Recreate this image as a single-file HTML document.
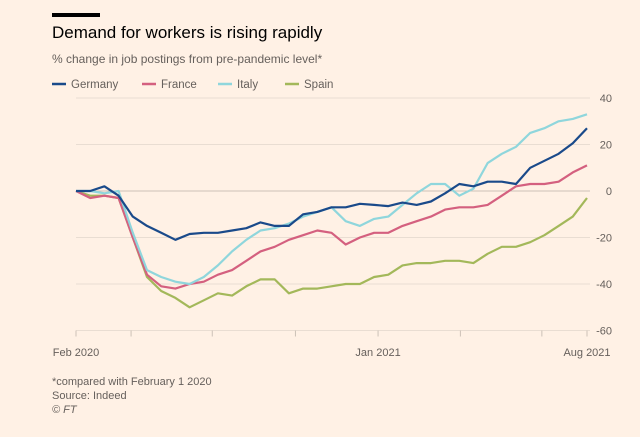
<!DOCTYPE html>
<html><head><meta charset="utf-8"><style>
html,body{margin:0;padding:0;background:#fff1e5;}
body{width:640px;height:432px;overflow:hidden;font-family:"Liberation Sans",sans-serif;}
</style></head><body>
<svg width="640" height="432" xmlns="http://www.w3.org/2000/svg">
<rect width="640" height="432" fill="#fff1e5"/>
<rect x="52" y="13" width="48" height="4" fill="#000"/>
<text x="52" y="38" font-size="17" fill="#000">Demand for workers is rising rapidly</text>
<text x="52" y="63" font-size="12" fill="#66605c">% change in job postings from pre-pandemic level*</text>
<g id="legend"></g>
<g id="grid"></g>
<g id="lines"></g>
<g id="xaxis"></g>
<text x="52" y="385" font-size="11" fill="#66605c">*compared with February 1 2020</text>
<text x="52" y="399" font-size="11" fill="#66605c">Source: Indeed</text>
<text x="52" y="413" font-size="11" font-style="italic" fill="#66605c">© FT</text>
</svg>
<script>
const months=[0,0.5,1,1.5,2,2.5,3,3.5,4,4.5,5,5.5,6,6.5,7,7.5,8,8.5,9,9.5,10,10.5,11,11.5,12,12.5,13,13.5,14,14.5,15,15.5,16,16.5,17,17.5,18];
const germany=[0,0,2,-2,-11,-15,-18,-21,-18.5,-18,-18,-17,-16,-13.5,-15,-15,-10,-9,-7,-7,-5.5,-6,-6.5,-5,-6,-4.5,-1,3,2,4,4,3,10,13,16,20.5,27];
const france=[0,-3,-2,-3,-20,-36,-41,-42,-40,-39,-36,-34,-30,-26,-24,-21,-19,-17,-18,-23,-20,-18,-18,-15,-13,-11,-8,-7,-7,-6,-2,2,3,3,4,8,11];
const italy=[0,0,-1,0,-18,-34,-37,-39,-40,-37,-32,-26,-21,-17,-16,-14,-11,-9,-7,-13,-15,-12,-11,-6,-1,3,3,-2,1,12,16,19,25,27,30,31,33];
const spain=[0,-2,-2,-3,-20,-37,-43,-46,-50,-47,-44,-45,-41,-38,-38,-44,-42,-42,-41,-40,-40,-37,-36,-32,-31,-31,-30,-30,-31,-27,-24,-24,-22,-19,-15,-11,-3];
const yTicks=[40,20,0,-20,-40,-60];
const xTickPos=[0,1.94,4.8,7.73,10.64,13.54,16.41,18];
const xLabels=[{m:0,t:"Feb 2020"},{m:10.64,t:"Jan 2021"},{m:18,t:"Aug 2021"}];
const seriesNames=["Germany","France","Italy","Spain"];
const colors=["#1a4a8a","#d4607f","#8fd6dc","#a3b85a"];
const NS="http://www.w3.org/2000/svg";
const X=m=>76+m*(587-76)/18;
const Y=v=>191-v*(93/40);
function mk(tag,attrs,parent){const e=document.createElementNS(NS,tag);for(const k in attrs)e.setAttribute(k,attrs[k]);parent.appendChild(e);return e;}
const grid=document.getElementById('grid');
yTicks.forEach(v=>{
  const l=mk('line',{x1:76,x2:590,y1:Y(v),y2:Y(v),stroke:v===0?'#ccc1b7':'#e9ddd2','stroke-width':1},grid);
  
  
  const t=mk('text',{x:612,y:Y(v)+4,'font-size':11,fill:'#66605c','text-anchor':'end'},grid);
  t.textContent=v;
  
  
});
const xa=document.getElementById('xaxis');
xTickPos.forEach(m=>{
  const l=mk('line',{x1:X(m),x2:X(m),y1:Y(-60),y2:Y(-60)+6,stroke:'#ccc1b7'},xa);
  
  
});
xLabels.forEach(o=>{
  const t=mk('text',{x:X(o.m),y:356,'font-size':11,fill:'#66605c','text-anchor':'middle'},xa);
  t.textContent=o.t;
  
  
});
const lg=document.getElementById('legend');
const lx=[52,142,218,285];
seriesNames.forEach((n,i)=>{
  const l=mk('line',{x1:lx[i],x2:lx[i]+14,y1:84,y2:84,stroke:colors[i],'stroke-width':2.5},lg);
  
  
  const t=mk('text',{x:lx[i]+19,y:88,'font-size':11.5,fill:'#66605c'},lg);
  t.textContent=n;
  
  
});
const lines=document.getElementById('lines');
[spain,france,italy,germany].forEach((arr,k)=>{
  const i=[3,1,2,0][k];
  const d=arr.map((v,j)=>(j?'L':'M')+X(months[j]).toFixed(1)+','+Y(v).toFixed(1)).join(' ');
  const p=mk('path',{d:d,fill:'none',stroke:colors[i],'stroke-width':2.2,'stroke-linejoin':'round'},lines);
  
  
});
</script>
</body></html>
